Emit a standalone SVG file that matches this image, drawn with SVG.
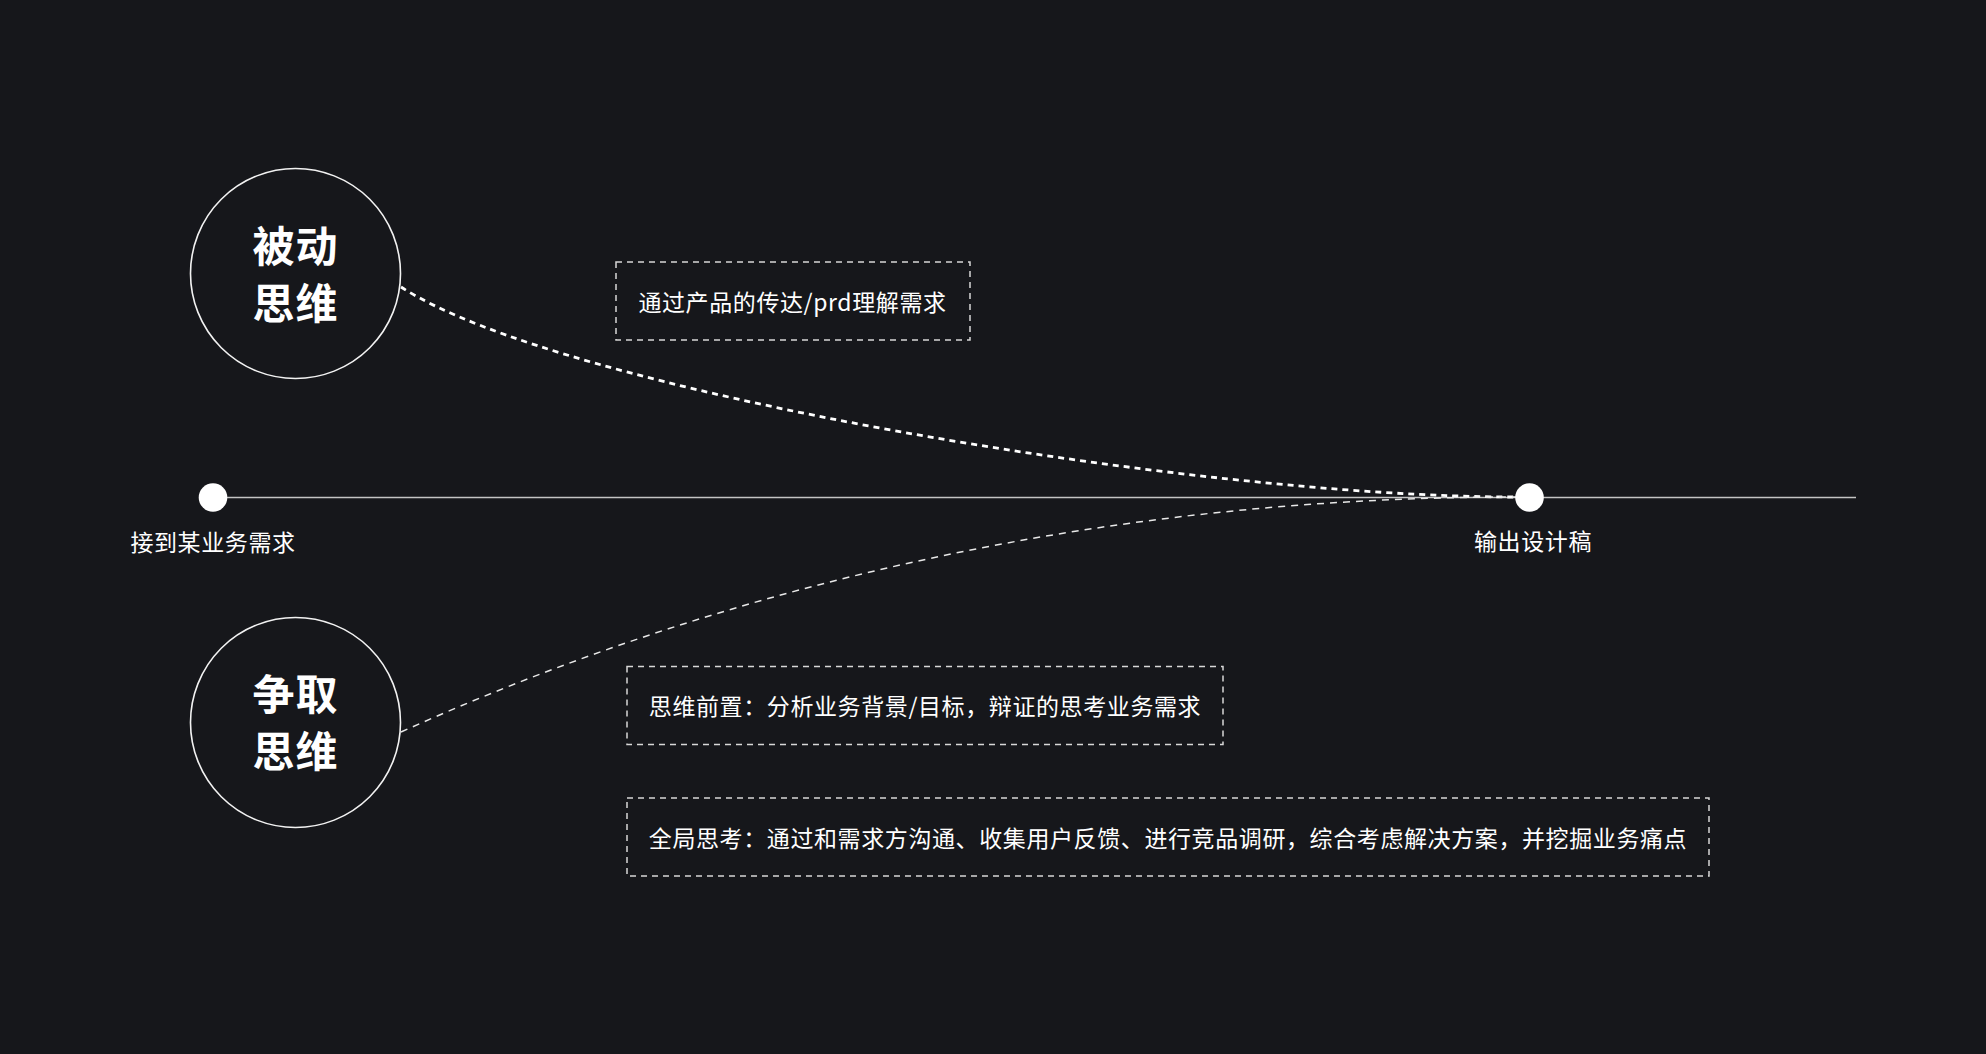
<svg xmlns="http://www.w3.org/2000/svg" width="1986" height="1054" viewBox="0 0 1986 1054">
<style>
.t{font-family:"Noto Sans CJK SC","Noto Sans",sans-serif;fill:#fff;}
.big{font-size:42px;font-weight:bold;letter-spacing:1px;}
.lbl{font-size:23px;font-weight:normal;letter-spacing:0.6px;}
.box{fill:none;stroke:#d8d8d8;stroke-width:1.5;stroke-dasharray:6 5;}
.ring{fill:none;stroke:#f2f2f2;stroke-width:1.6;}
</style>
<rect width="1986" height="1054" fill="#16171b"/>
<g id="connectors">
<line x1="213" y1="497.5" x2="1856" y2="497.5" stroke="#c4c4c4" stroke-width="1.6"/>
<path d="M401,287 C561,391 1190,497 1516,497" fill="none" stroke="#ffffff" stroke-width="2.8" stroke-dasharray="6 5"/>
<path d="M401,732 C741,579 1116,497 1516,497" fill="none" stroke="#e8e8e8" stroke-width="1.5" stroke-dasharray="7 6"/>
</g>
<g id="node-passive">
<circle class="ring" cx="295.5" cy="273.5" r="105"/>
<text class="t big" x="295.5" y="243" text-anchor="middle" dominant-baseline="central">被动</text>
<text class="t big" x="295.5" y="300" text-anchor="middle" dominant-baseline="central">思维</text>
</g>
<g id="node-active">
<circle class="ring" cx="295.5" cy="722.5" r="105"/>
<text class="t big" x="295.5" y="691" text-anchor="middle" dominant-baseline="central">争取</text>
<text class="t big" x="295.5" y="748" text-anchor="middle" dominant-baseline="central">思维</text>
</g>
<g id="node-start">
<circle cx="213" cy="497.5" r="14.3" fill="#fff"/>
<text class="t lbl" x="213" y="541" text-anchor="middle" dominant-baseline="central">接到某业务需求</text>
</g>
<g id="node-end">
<circle cx="1529.5" cy="497.5" r="14.3" fill="#fff"/>
<text class="t lbl" x="1533" y="540" text-anchor="middle" dominant-baseline="central">输出设计稿</text>
</g>
<g id="box-1">
<rect class="box" x="616" y="262" width="354" height="78"/>
<text class="t lbl" x="792.5" y="301" text-anchor="middle" dominant-baseline="central">通过产品的传达/prd理解需求</text>
</g>
<g id="box-2">
<rect class="box" x="627" y="666.5" width="596" height="78"/>
<text class="t lbl" x="925" y="705" text-anchor="middle" dominant-baseline="central">思维前置：分析业务背景/目标，辩证的思考业务需求</text>
</g>
<g id="box-3">
<rect class="box" x="627" y="798" width="1082" height="78"/>
<text class="t lbl" x="1168" y="837" text-anchor="middle" dominant-baseline="central">全局思考：通过和需求方沟通、收集用户反馈、进行竞品调研，综合考虑解决方案，并挖掘业务痛点</text>
</g>
</svg>
